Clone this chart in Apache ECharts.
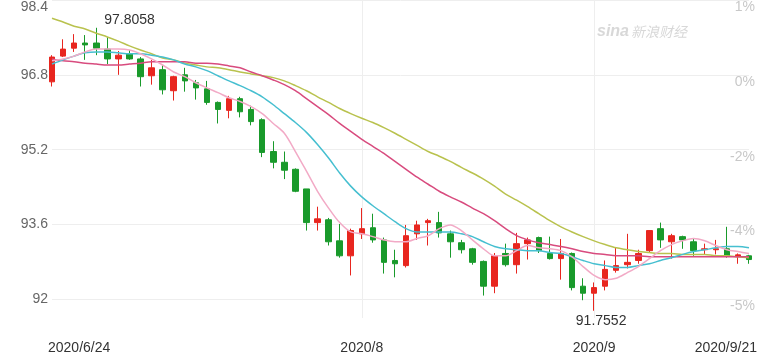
<!DOCTYPE html>
<html><head><meta charset="utf-8">
<script src="https://cdn.jsdelivr.net/npm/echarts@6/dist/echarts.min.js"></script>
<style>html,body{margin:0;padding:0;background:#fff}#c{width:760px;height:356px}</style>
</head><body><div id="c"></div><script>
const dates = ['2020/6/24','2020/6/25','2020/6/26','2020/6/29','2020/6/30',
'2020/7/1','2020/7/2','2020/7/3','2020/7/6','2020/7/7','2020/7/8','2020/7/9','2020/7/10',
'2020/7/13','2020/7/14','2020/7/15','2020/7/16','2020/7/17','2020/7/20','2020/7/21','2020/7/22',
'2020/7/23','2020/7/24','2020/7/27','2020/7/28','2020/7/29','2020/7/30','2020/7/31',
'2020/8/3','2020/8/4','2020/8/5','2020/8/6','2020/8/7','2020/8/10','2020/8/11','2020/8/12',
'2020/8/13','2020/8/14','2020/8/17','2020/8/18','2020/8/19','2020/8/20','2020/8/21',
'2020/8/24','2020/8/25','2020/8/26','2020/8/27','2020/8/28','2020/8/31',
'2020/9/1','2020/9/2','2020/9/3','2020/9/4','2020/9/7','2020/9/8','2020/9/9','2020/9/10',
'2020/9/11','2020/9/14','2020/9/15','2020/9/16','2020/9/17','2020/9/18','2020/9/21'];
const openP = [96.65,97.20,97.37,97.48,97.48,97.35,97.14,97.25,97.14,96.78,96.91,96.46,96.80,96.63,96.50,96.21,
96.04,96.29,96.06,95.84,95.16,94.93,94.78,94.36,93.64,93.70,93.25,92.93,93.40,93.53,93.27,92.83,
92.72,93.40,93.64,93.64,93.40,93.21,93.08,92.81,92.28,92.98,92.74,93.19,93.32,92.98,92.87,92.98,
92.28,92.13,92.28,92.62,92.74,92.83,93.04,93.51,93.23,93.34,93.23,93.06,93.06,93.08,92.91,92.93];
const closeP = [97.18,97.35,97.48,97.44,97.37,97.14,97.22,97.14,96.76,96.95,96.48,96.76,96.67,96.52,96.21,96.06,
96.29,96.01,95.80,95.14,94.93,94.76,94.31,93.64,93.72,93.23,92.93,93.47,93.51,93.27,92.79,92.76,
93.36,93.59,93.68,93.42,93.23,93.06,92.79,92.28,92.93,92.74,93.19,93.27,93.04,92.87,92.98,92.25,
92.13,92.25,92.64,92.72,92.79,92.98,93.47,93.27,93.36,93.27,93.04,93.08,93.08,92.93,92.95,92.85];
const lowP = [96.55,97.18,97.29,97.12,97.22,97.03,96.80,97.12,96.55,96.59,96.38,96.25,96.44,96.27,96.16,95.76,
95.87,95.89,95.72,95.04,94.80,94.57,94.29,93.47,93.47,93.15,92.89,92.51,93.29,93.21,92.55,92.47,
92.68,93.27,93.15,93.32,92.89,92.98,92.74,92.08,92.13,92.70,92.55,92.85,92.99,92.85,92.42,92.19,
91.98,91.7552,92.19,92.57,92.66,92.76,93.00,93.10,92.87,93.08,92.93,92.96,92.96,92.89,92.76,92.76];
const highP = [97.22,97.56,97.67,97.65,97.8058,97.61,97.31,97.33,97.18,97.12,97.01,96.78,96.95,96.69,96.67,96.23,
96.35,96.33,96.14,95.87,95.38,95.16,94.80,94.36,93.98,93.74,93.61,93.51,93.95,93.83,93.32,93.06,
93.59,93.68,93.72,93.87,93.47,93.27,93.10,92.83,92.99,93.19,93.42,93.32,93.34,93.34,93.29,93.00,
92.45,92.36,92.83,93.10,93.40,93.06,93.47,93.64,93.40,93.36,93.29,93.19,93.27,93.55,92.98,92.95];
const ma5 = [97.10,97.14,97.20,97.29,97.35,97.35,97.35,97.33,97.25,97.14,97.01,96.86,96.76,96.63,96.52,96.42,
96.31,96.23,96.12,95.97,95.76,95.55,95.16,94.74,94.31,93.95,93.64,93.44,93.40,93.34,93.27,93.23,
93.23,93.30,93.36,93.51,93.59,93.47,93.27,93.08,92.93,92.93,93.04,93.15,93.10,93.08,93.04,92.91,
92.70,92.51,92.42,92.45,92.57,92.70,92.87,93.04,93.17,93.25,93.30,93.25,93.15,93.06,93.02,92.98];
const ma10 = [97.03,97.12,97.20,97.27,97.29,97.29,97.27,97.25,97.25,97.22,97.18,97.12,97.03,96.97,96.89,96.78,
96.67,96.57,96.46,96.33,96.16,95.97,95.78,95.57,95.31,95.02,94.70,94.42,94.19,94.00,93.83,93.66,
93.51,93.44,93.44,93.44,93.44,93.40,93.34,93.23,93.13,93.08,93.06,93.04,93.04,93.00,92.98,92.91,
92.83,92.76,92.72,92.68,92.68,92.72,92.76,92.83,92.89,92.96,93.02,93.06,93.10,93.13,93.13,93.10];
const ma20 = [97.14,97.10,97.08,97.05,97.03,97.01,97.01,97.03,97.05,97.08,97.08,97.08,97.08,97.05,97.05,97.03,
96.99,96.95,96.86,96.78,96.69,96.59,96.46,96.29,96.12,95.95,95.76,95.59,95.42,95.27,95.12,94.95,
94.78,94.61,94.46,94.31,94.19,94.08,93.95,93.83,93.68,93.51,93.36,93.27,93.21,93.17,93.13,93.08,
93.02,92.98,92.96,92.93,92.93,92.93,92.91,92.91,92.91,92.91,92.91,92.91,92.91,92.91,92.91,92.91];
const ma60 = [98.01,97.93,97.84,97.78,97.69,97.61,97.52,97.42,97.33,97.25,97.16,97.12,97.05,97.01,96.97,96.95,
96.91,96.86,96.82,96.78,96.74,96.67,96.57,96.46,96.33,96.21,96.08,95.97,95.87,95.78,95.67,95.55,
95.42,95.29,95.16,95.06,94.95,94.82,94.70,94.57,94.42,94.25,94.12,93.98,93.83,93.68,93.55,93.44,
93.34,93.25,93.17,93.10,93.06,93.02,93.00,92.98,92.98,92.96,92.96,92.96,92.93,92.93,92.91,92.89];
const yTicks = [92, 93.6, 95.2, 96.8, 98.4];
const yLeftLabels = ['92', '93.6', '95.2', '96.8', '98.4'];
const yRightLabels = ['-5%', '-4%', '-2%', '0%', '1%'];
const xTickDates = ['2020/6/24', '2020/8/3', '2020/9/1', '2020/9/21'];
const xTickLabels = ['2020/6/24', '2020/8', '2020/9', '2020/9/21'];
const xGridDates = ['2020/8/3', '2020/9/1'];

const RED = '#e8261f', GREEN = '#199a2b';
const FONT = '"Liberation Sans", Arial, sans-serif';
const kData = dates.map((d, i) => [openP[i], closeP[i], lowP[i], highP[i]]);
let iMax = 0, iMin = 0;
highP.forEach((v, i) => { if (v > highP[iMax]) iMax = i; });
lowP.forEach((v, i) => { if (v < lowP[iMin]) iMin = i; });

function lbl(v, labels) {
  for (let k = 0; k < yTicks.length; k++) if (Math.abs(v - yTicks[k]) < 1e-6) return labels[k];
  return '';
}
function line(name, data, color) {
  return { name, type: 'line', data, smooth: 0.3, showSymbol: false, symbol: 'none',
    lineStyle: { color, width: 1.5 }, itemStyle: { color }, z: 3, silent: true };
}

const chart = echarts.init(document.getElementById('c'), null, { renderer: 'canvas' });
chart.setOption({
  animation: false,
  backgroundColor: '#fff',
  grid: { left: 52, right: 10, top: -2, bottom: 38 },
  xAxis: {
    type: 'category', data: dates, boundaryGap: false,
    axisLine: { show: false }, axisTick: { show: false },
    axisLabel: {
      interval: (i, v) => xTickDates.indexOf(v) >= 0,
      formatter: (v) => {
        const k = xTickDates.indexOf(v);
        if (k < 0) return '';
        if (k === 0) return '{f|' + xTickLabels[k] + '}';
        if (k === xTickDates.length - 1) return '{l|' + xTickLabels[k] + '}';
        return xTickLabels[k];
      },
      rich: {
        f: { color: '#333', fontSize: 14, fontFamily: FONT, padding: [0, 0, 0, -4] },
        l: { color: '#333', fontSize: 14, fontFamily: FONT, padding: [0, -8, 0, 0] }
      },
      color: '#333', fontSize: 14, fontFamily: FONT, margin: 23,
      alignMinLabel: 'left', alignMaxLabel: 'right'
    },
    splitLine: { show: true, interval: (i, v) => xGridDates.indexOf(v) >= 0, lineStyle: { color: '#eeeeee', width: 1 } }
  },
  yAxis: [{
    type: 'value', min: 91.6, max: 98.4, scale: true,
    axisLine: { show: false },
    axisTick: { show: false, customValues: yTicks },
    axisLabel: { customValues: yTicks, formatter: (v) => lbl(v, yLeftLabels), color: '#666', fontSize: 14, fontFamily: FONT, margin: 4,
      verticalAlignMaxLabel: 'top' },
    splitLine: { show: true, lineStyle: { color: '#eeeeee', width: 1 } }
  }, {
    type: 'value', min: 91.6, max: 98.4, scale: true, position: 'right',
    axisLine: { show: false },
    axisTick: { show: false, customValues: yTicks },
    axisLabel: { customValues: yTicks, formatter: (v) => lbl(v, yRightLabels), color: '#c8c8c8', fontSize: 14, fontFamily: FONT,
      margin: 6, align: 'right', verticalAlign: 'top' },
    splitLine: { show: false }
  }],
  graphic: [
    { type: 'text', left: 597, top: 24, style: { text: 'sina', font: 'italic bold 16px "Liberation Sans", Arial', fill: '#d8d8d8' }, z: 0 },
    { type: 'text', left: 631, top: 25, style: { text: '新浪财经', font: 'italic 14px "Noto Sans CJK SC"', fill: '#d8d8d8' }, z: 0 }
  ],
  series: [
    {
      name: 'K', type: 'candlestick', data: kData, barWidth: 6, z: 2, clip: false,
      itemStyle: { color: RED, color0: GREEN, borderColor: RED, borderColor0: GREEN, borderWidth: 1 },
      markPoint: {
        symbol: 'circle', symbolSize: 0, itemStyle: { color: 'rgba(0,0,0,0)' },
        label: { show: true, color: '#333', fontSize: 14, fontFamily: FONT, formatter: (p) => String(p.value) },
        data: [
          { coord: [iMax, highP[iMax]], value: highP[iMax], label: { position: 'inside', align: 'left', offset: [8, -8] } },
          { coord: [iMin, lowP[iMin]], value: lowP[iMin], label: { position: 'inside', align: 'center', offset: [7, 10] } }
        ]
      }
    },
    line('MA60', ma60, '#b9c24e'),
    line('MA20', ma20, '#d84b7e'),
    line('MA10', ma10, '#46bfd0'),
    line('MA5', ma5, '#f2aac6')
  ]
});
</script></body></html>
